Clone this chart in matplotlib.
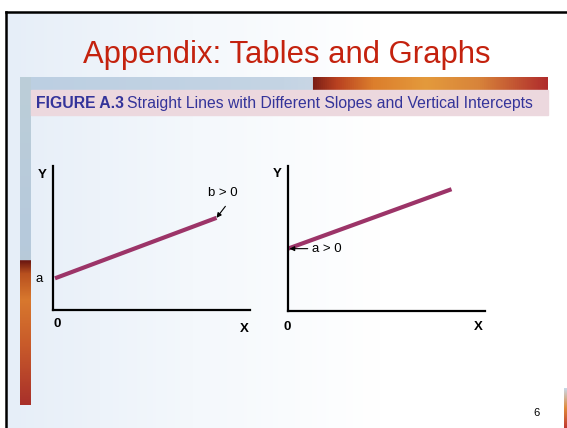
import numpy as np
import matplotlib.pyplot as plt
from matplotlib.colors import LinearSegmentedColormap

plt.rcParams['font.family'] = ['Liberation Sans', 'DejaVu Sans']

# line data (each panel: x from 0 to 10, y from 0 to 10)
left_x = [0.1, 8.3]
left_y = [2.2, 6.4]
right_x = [0.0, 8.3]
right_y = [4.3, 8.4]

title = 'Appendix: Tables and Graphs'
fig_label = 'FIGURE A.3'
fig_caption = 'Straight Lines with Different Slopes and Vertical Intercepts'
line_col = '#9c3468'

W, H = 567, 428
fig = plt.figure(figsize=(W / 100, H / 100), dpi=100)
bg = fig.add_axes([0, 0, 1, 1])
bg.set_xlim(0, W)
bg.set_ylim(H, 0)
bg.axis('off')

# slide background: light blue fading to white
grad = LinearSegmentedColormap.from_list('bgc', ['#e6eef8', '#f4f8fc', '#ffffff', '#ffffff'])
bg.imshow(np.linspace(0, 1, 256)[None, :], cmap=grad, aspect='auto',
          extent=[6, W, H, 12], zorder=0)

# banner strip above the caption
ban = LinearSegmentedColormap.from_list('ban', [
    (0.0, '#bccfe2'), (0.5, '#c4d4e4'), (0.5549, '#c8d6e4'), (0.555, '#7a1e16'),
    (0.60, '#b84020'), (0.67, '#dc7e2c'), (0.77, '#e49a3c'), (0.87, '#d8843a'),
    (1.0, '#b02c2c')])
bg.imshow(np.linspace(0, 1, 512)[None, :], cmap=ban, aspect='auto',
          extent=[20, 548, 90, 77], zorder=1)

# left vertical strip
stripe = LinearSegmentedColormap.from_list('stp', [
    (0.0, '#bcced8'), (0.5, '#b6c9dc'), (0.56, '#b8cad8'), (0.5601, '#6a1610'),
    (0.6, '#b8501f'), (0.68, '#d8782e'), (0.82, '#c85a2a'), (1.0, '#a8302a')])
bg.imshow(np.linspace(0, 1, 512)[:, None], cmap=stripe, aspect='auto',
          extent=[20, 31, 405, 77], zorder=1)

# pink caption box
bg.add_patch(plt.Rectangle((31, 90), 517, 25, color='#ecd8de', zorder=2))

# slide frame
bg.plot([6, 6], [12, H], color='black', lw=1.8, zorder=3)
bg.plot([6, W], [12, 12], color='black', lw=1.8, zorder=3)
corner = LinearSegmentedColormap.from_list('cor', ['#c8d8e8', '#e08a3a', '#c03a30'])
bg.imshow(np.linspace(0, 1, 64)[:, None], cmap=corner, aspect='auto',
          extent=[564, W, H, 388], zorder=1)

# text
bg.text(287, 63, title, color='#c4220e', fontsize=22.3, ha='center', va='baseline', zorder=4)
t1 = bg.text(36, 108, fig_label, color='#34349a', fontsize=11.3, fontweight='bold',
             va='baseline', zorder=4)
fig.canvas.draw()
ext = t1.get_window_extent()
bg.text(ext.x1 + 3, 108, fig_caption, color='#34349a', fontsize=11.3,
        va='baseline', zorder=4)
bg.text(536, 413, '6', fontsize=8, ha='center', va='center', zorder=4)


def panel(rect, xs, ys):
    ax = fig.add_axes(rect)
    ax.set_xlim(0, 10)
    ax.set_ylim(0, 10)
    ax.patch.set_alpha(0)
    for s in ['top', 'right']:
        ax.spines[s].set_visible(False)
    for s in ['left', 'bottom']:
        ax.spines[s].set_linewidth(1.6)
    ax.set_xticks([])
    ax.set_yticks([])
    ax.plot(xs, ys, color=line_col, lw=3, solid_capstyle='butt')
    return ax


axL = panel([53 / W, (H - 310) / H, 197 / W, 144 / H], left_x, left_y)
axR = panel([288 / W, (H - 311) / H, 197 / W, 145 / H], right_x, right_y)

# axis letters
for x, y, s in [(42, 175, 'Y'), (57, 324, '0'), (244, 329, 'X'),
                (277, 174, 'Y'), (287, 327, '0'), (478, 327, 'X')]:
    bg.text(x, y, s, fontsize=9.5, fontweight='bold', ha='center', va='center', zorder=4)
bg.text(39, 279, 'a', fontsize=9.5, ha='center', va='center', zorder=4)

# annotations
axL.annotate('', xy=(left_x[1], left_y[1]), xytext=(8.75, 7.2),
             arrowprops=dict(arrowstyle='-|>', color='black', lw=0.8,
                             mutation_scale=7, shrinkA=0, shrinkB=0))
axL.text(8.6, 8.1, 'b > 0', fontsize=9.5, ha='center', va='center')
axR.annotate('', xy=(0.08, right_y[0]), xytext=(1.0, right_y[0]),
             arrowprops=dict(arrowstyle='-|>', color='black', lw=0.8,
                             mutation_scale=7, shrinkA=0, shrinkB=0))
axR.text(1.2, right_y[0], 'a > 0', fontsize=9.5, ha='left', va='center')

fig.savefig('out.png', dpi=100)
